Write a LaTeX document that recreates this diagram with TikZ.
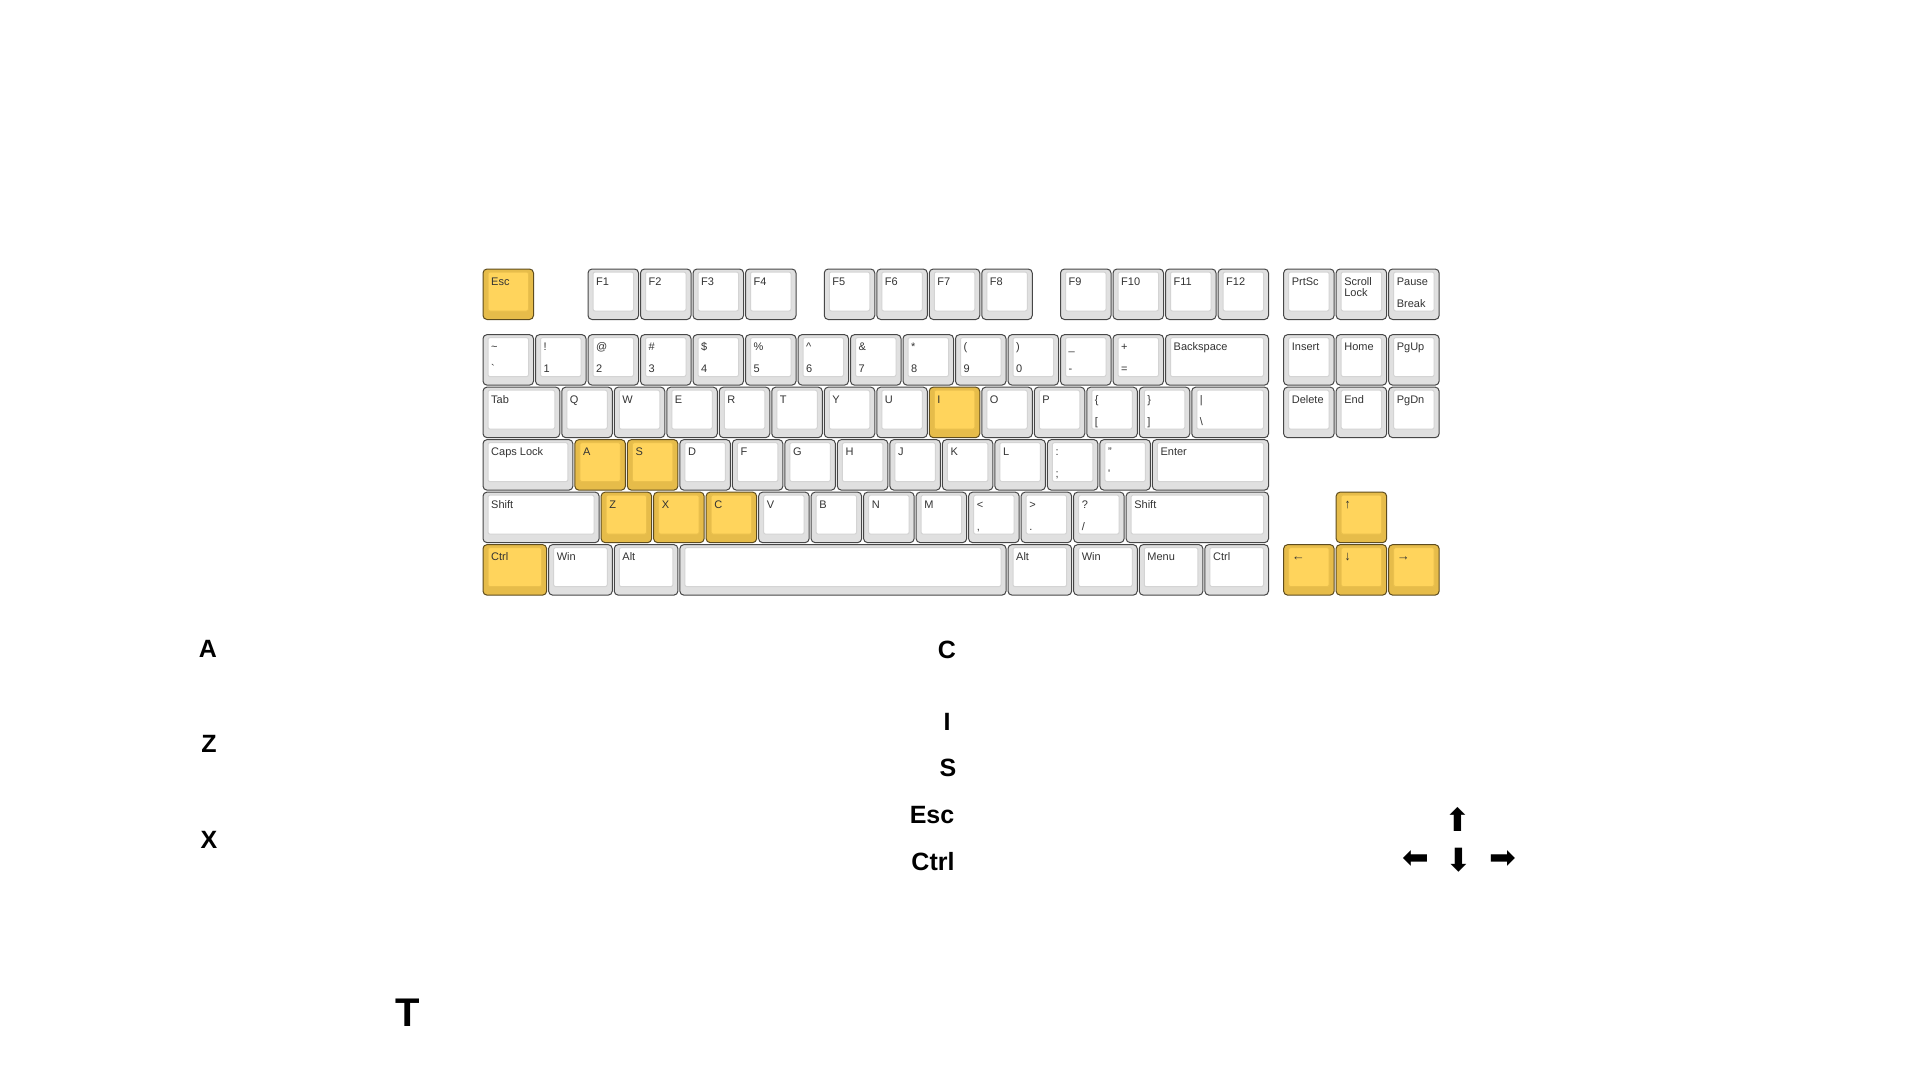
\documentclass[tikz,border=0pt]{standalone}
\usepackage{fontspec}
\setmainfont{Liberation Sans}
\newfontfamily\arrowfont{DejaVu Sans}
\usetikzlibrary{positioning}

\definecolor{keygrey}{HTML}{E0E0E0}
\definecolor{facegrey}{HTML}{D4D4D4}
\definecolor{keyedge}{HTML}{474747}
\definecolor{keygold}{HTML}{E6BC4A}
\definecolor{facegold}{HTML}{FFD45C}
\definecolor{goldedge}{HTML}{5E4C1E}
\definecolor{labelgrey}{HTML}{333333}

\tikzset{
  plain outer/.style={draw=keyedge, fill=keygrey, line width=1pt, rounded corners=4pt},
  plain face/.style={draw=facegrey, fill=white, line width=1pt, rounded corners=2pt},
  hit outer/.style={draw=goldedge, fill=keygold, line width=1pt, rounded corners=4pt},
  hit face/.style={draw=keygold!85!facegold, fill=facegold, line width=1pt, rounded corners=2pt},
  keylbl/.style={anchor=base west, inner sep=0pt, text=labelgrey, font=\fontsize{11}{12}\selectfont},
  biglbl/.style={inner sep=0pt, font=\fontsize{25}{30}\selectfont\bfseries},
  arrowlbl/.style={inner sep=0pt, font=\arrowfont\fontsize{32}{36}\selectfont},
}

% key: [style]{name}{x}{y}{width}{top label}{bottom label}, x/y/width in key units
\newcommand{\keycap}[7][plain]{%
  \draw[#1 outer] ({482+#3*52.5+1},{268+#4*52.5+1}) rectangle ++({#5*52.5-2},50.5);
  \draw[#1 face] ({482+#3*52.5+6},{268+#4*52.5+4}) rectangle ++({#5*52.5-12},39);
  \node[keylbl] (#2) at ({482+#3*52.5+9},{268+#4*52.5+17}) {#6};
  \node[keylbl] (#2-b) at ({482+#3*52.5+9},{268+#4*52.5+39}) {#7};
}

\begin{document}
\begin{tikzpicture}[x=1pt, y=-1pt]
\useasboundingbox[fill=white] (0,0) rectangle (1920,1080);

% function row
\keycap[hit]{kEsc}{0}{0}{1}{Esc}{}
\foreach \x/\t in {2/F1,3/F2,4/F3,5/F4,6.5/F5,7.5/F6,8.5/F7,9.5/F8,11/F9,12/F10,13/F11,14/F12}
  {\keycap{k\t}{\x}{0}{1}{\t}{}}
\keycap{kPrtSc}{15.25}{0}{1}{PrtSc}{}
\keycap{kScroll}{16.25}{0}{1}{Scroll}{}
\node[keylbl] (kLock) at ([yshift=-11pt]kScroll.base west) {Lock};
\keycap{kPause}{17.25}{0}{1}{Pause}{Break}

% number row
\keycap{kTilde}{0}{1.25}{1}{\textasciitilde}{\textasciigrave}
\foreach \x/\t/\b in {1/!/1, 2/@/2, 3/\#/3, 4/\$/4, 5/\%/5, 6/\^{}/6, 7/\&/7, 8/*/8, 9/{(}/9, 10/{)}/0, 11/\_/-, 12/+/=}
  {\keycap{kNum\x}{\x}{1.25}{1}{\t}{\b}}
\keycap{kBack}{13}{1.25}{2}{Backspace}{}
\keycap{kIns}{15.25}{1.25}{1}{Insert}{}
\keycap{kHome}{16.25}{1.25}{1}{Home}{}
\keycap{kPgUp}{17.25}{1.25}{1}{PgUp}{}

% tab row
\keycap{kTab}{0}{2.25}{1.5}{Tab}{}
\foreach \x/\t in {1.5/Q,2.5/W,3.5/E,4.5/R,5.5/T,6.5/Y,7.5/U,9.5/O,10.5/P}
  {\keycap{k\t}{\x}{2.25}{1}{\t}{}}
\keycap[hit]{kI}{8.5}{2.25}{1}{I}{}
\keycap{kBrL}{11.5}{2.25}{1}{\{}{[}
\keycap{kBrR}{12.5}{2.25}{1}{\}}{]}
\keycap{kBar}{13.5}{2.25}{1.5}{|}{\textbackslash}
\keycap{kDel}{15.25}{2.25}{1}{Delete}{}
\keycap{kEnd}{16.25}{2.25}{1}{End}{}
\keycap{kPgDn}{17.25}{2.25}{1}{PgDn}{}

% home row
\keycap{kCaps}{0}{3.25}{1.75}{Caps Lock}{}
\keycap[hit]{kA}{1.75}{3.25}{1}{A}{}
\keycap[hit]{kS}{2.75}{3.25}{1}{S}{}
\foreach \x/\t in {3.75/D,4.75/F,5.75/G,6.75/H,7.75/J,8.75/K,9.75/L}
  {\keycap{k\t}{\x}{3.25}{1}{\t}{}}
\keycap{kSemi}{10.75}{3.25}{1}{:}{;}
\keycap{kQuote}{11.75}{3.25}{1}{"}{\textquotesingle}
\keycap{kEnter}{12.75}{3.25}{2.25}{Enter}{}

% shift row
\keycap{kShiftL}{0}{4.25}{2.25}{Shift}{}
\keycap[hit]{kZ}{2.25}{4.25}{1}{Z}{}
\keycap[hit]{kX}{3.25}{4.25}{1}{X}{}
\keycap[hit]{kC}{4.25}{4.25}{1}{C}{}
\foreach \x/\t in {5.25/V,6.25/B,7.25/N,8.25/M}
  {\keycap{k\t}{\x}{4.25}{1}{\t}{}}
\keycap{kLt}{9.25}{4.25}{1}{<}{,}
\keycap{kGt}{10.25}{4.25}{1}{>}{.}
\keycap{kQm}{11.25}{4.25}{1}{?}{/}
\keycap{kShiftR}{12.25}{4.25}{2.75}{Shift}{}
\keycap[hit]{kUp}{16.25}{4.25}{1}{\fontsize{13}{14}\selectfont ↑}{}

% bottom row
\keycap[hit]{kCtrlL}{0}{5.25}{1.25}{Ctrl}{}
\keycap{kWinL}{1.25}{5.25}{1.25}{Win}{}
\keycap{kAltL}{2.5}{5.25}{1.25}{Alt}{}
\keycap{kSpace}{3.75}{5.25}{6.25}{}{}
\keycap{kAltR}{10}{5.25}{1.25}{Alt}{}
\keycap{kWinR}{11.25}{5.25}{1.25}{Win}{}
\keycap{kMenu}{12.5}{5.25}{1.25}{Menu}{}
\keycap{kCtrlR}{13.75}{5.25}{1.25}{Ctrl}{}
\keycap[hit]{kLeft}{15.25}{5.25}{1}{\fontsize{13}{14}\selectfont ←}{}
\keycap[hit]{kDown}{16.25}{5.25}{1}{\fontsize{13}{14}\selectfont ↓}{}
\keycap[hit]{kRight}{17.25}{5.25}{1}{\fontsize{13}{14}\selectfont →}{}

% key names below
\node[biglbl] (tA) at (208,649) {A};
\node[biglbl] (tZ) at (209,744) {Z};
\node[biglbl] (tX) at (209,840) {X};
\node[biglbl, font=\fontsize{40}{44}\selectfont\bfseries] (tT) at (408,1013) {T};
\node[biglbl] (tC) at (947,650) {C};
\node[biglbl] (tI) at (947,722) {I};
\node[biglbl] (tS) at (948,768) {S};
\node[biglbl] (tEsc) at (932,815) {Esc};
\node[biglbl] (tCtrl) at (933,862) {Ctrl};
\node[arrowlbl] (tUp) at (1458,819) {⬆};
\node[arrowlbl] (tLeft) at (1416,860) {⬅};
\node[arrowlbl] (tDown) at (1459,860) {⬇};
\node[arrowlbl] (tRight) at (1503,860) {➡};
\end{tikzpicture}
\end{document}
